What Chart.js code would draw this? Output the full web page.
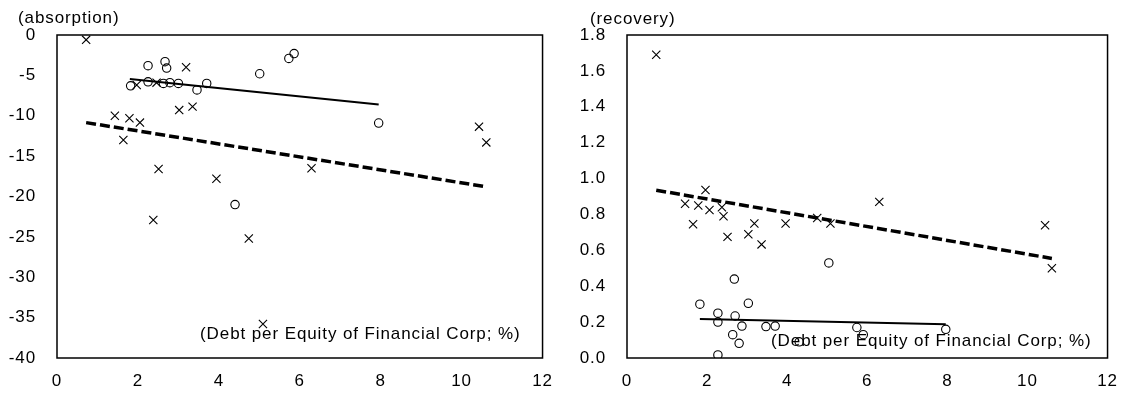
<!DOCTYPE html>
<html>
<head>
<meta charset="utf-8">
<script src="https://cdn.jsdelivr.net/npm/chart.js@4/dist/chart.umd.min.js"></script>
<style>
  html, body { margin: 0; padding: 0; background: #fff; }
  #wrap { position: relative; width: 1130px; height: 394px; }
  canvas { position: absolute; top: 0; }
</style>
</head>
<body>
<div id="wrap">
  <canvas id="absChart" width="565" height="394" style="left:0"></canvas>
  <canvas id="recChart" width="565" height="394" style="left:565px"></canvas>
</div>
<script>
// Debt per equity of financial corporations (%), x-axis for both panels
const xTicks = [0, 2, 4, 6, 8, 10, 12];

// Absorption panel: crosses
const absCrossX = [0.72, 1.43, 1.64, 1.79, 1.97, 2.05, 2.38, 2.46, 2.51, 3.02, 3.19, 3.35, 3.94, 4.74, 5.09, 6.29, 10.43, 10.61];
const absCrossY = [-0.6, -10.0, -13.0, -10.3, -6.2, -10.85, -22.9, -5.9, -16.6, -9.3, -4.0, -8.87, -17.8, -25.2, -35.8, -16.5, -11.35, -13.3];
// Absorption panel: circles
const absCircleX = [1.82, 2.25, 2.25, 2.63, 2.67, 2.71, 2.79, 3.00, 3.46, 3.70, 4.40, 5.01, 5.73, 5.86, 7.95];
const absCircleY = [-6.3, -3.8, -5.8, -6.0, -3.3, -4.1, -5.9, -6.0, -6.8, -6.0, -21.0, -4.8, -2.9, -2.3, -10.9];
// Absorption panel: fitted lines (start, end)
const absCrossTrendX = [0.72, 10.61];
const absCrossTrendY = [-10.85, -18.8];
const absCircleTrendX = [1.80, 7.95];
const absCircleTrendY = [-5.45, -8.6];
const absYTicks = [-40, -35, -30, -25, -20, -15, -10, -5, 0];

// Recovery panel: crosses
const recCrossX = [0.73, 1.45, 1.65, 1.78, 1.96, 2.06, 2.37, 2.41, 2.51, 3.03, 3.18, 3.36, 3.96, 4.75, 5.08, 6.30, 10.44, 10.61];
const recCrossY = [1.69, 0.86, 0.745, 0.85, 0.936, 0.825, 0.84, 0.79, 0.675, 0.69, 0.75, 0.633, 0.75, 0.78, 0.75, 0.87, 0.74, 0.50];
// Recovery panel: circles
const recCircleX = [1.82, 2.27, 2.27, 2.27, 2.64, 2.68, 2.70, 2.80, 2.87, 3.03, 3.47, 3.70, 4.30, 5.04, 5.74, 5.90, 7.96];
const recCircleY = [0.30, 0.25, 0.20, 0.017, 0.13, 0.44, 0.234, 0.082, 0.178, 0.305, 0.175, 0.178, 0.09, 0.53, 0.17, 0.13, 0.16];
// Recovery panel: fitted lines (start, end)
const recCrossTrendX = [0.73, 10.61];
const recCrossTrendY = [0.935, 0.555];
const recCircleTrendX = [1.82, 7.96];
const recCircleTrendY = [0.217, 0.188];
const recYTicks = [0, 0.2, 0.4, 0.6, 0.8, 1.0, 1.2, 1.4, 1.6, 1.8];

const xNote = '(Debt per Equity of Financial Corp; %)';
const FONT = '"Liberation Sans", Arial, sans-serif';
const FONT_SIZE = 17;

function pts(xs, ys) { return xs.map((x, i) => ({ x: x, y: ys[i] })); }

// Frame around the plot area plus the unit label and the x-axis note
function decorPlugin(unitLabel, unitX, unitY, noteInsetRight, noteY) {
  return {
    id: 'decor',
    beforeDraw(chart) { chart.ctx.letterSpacing = '0.9px'; },
    afterDraw(chart) {
      const ctx = chart.ctx, a = chart.chartArea;
      ctx.save();
      ctx.strokeStyle = '#000';
      ctx.lineWidth = 1.5;
      ctx.strokeRect(a.left, a.top, a.right - a.left, a.bottom - a.top);
      ctx.fillStyle = '#000';
      ctx.font = FONT_SIZE + 'px ' + FONT;
      ctx.letterSpacing = '0.9px';
      ctx.textBaseline = 'middle';
      ctx.textAlign = 'left';
      ctx.fillText(unitLabel, unitX, unitY);
      ctx.textAlign = 'right';
      ctx.fillText(xNote, a.right - noteInsetRight, noteY);
      ctx.restore();
    }
  };
}

function makeChart(id, cfg) {
  const datasets = [
    { data: pts(cfg.crossX, cfg.crossY), pointStyle: 'crossRot', pointRadius: 5.8, pointBorderColor: '#000', pointBorderWidth: 1.1, backgroundColor: 'transparent', showLine: false, order: 2 },
    { data: pts(cfg.circleX, cfg.circleY), pointStyle: 'circle', pointRadius: 4.2, pointBorderColor: '#000', pointBorderWidth: 1.1, pointBackgroundColor: 'rgba(0,0,0,0)', showLine: false, order: 2 },
    { data: pts(cfg.crossTrendX, cfg.crossTrendY), showLine: true, pointRadius: 0, borderColor: '#000', borderWidth: 3.5, borderDash: [10, 4], borderCapStyle: 'butt', order: 1 },
    { data: pts(cfg.circleTrendX, cfg.circleTrendY), showLine: true, pointRadius: 0, borderColor: '#000', borderWidth: 2, order: 1 }
  ];
  return new Chart(document.getElementById(id), {
    type: 'scatter',
    data: { datasets: datasets },
    options: {
      responsive: false,
      animation: false,
      events: [],
      layout: { padding: { left: 0, top: 35, right: cfg.padRight, bottom: 0 } },
      plugins: { legend: { display: false }, tooltip: { enabled: false } },
      scales: {
        x: {
          type: 'linear', min: 0, max: 12,
          afterBuildTicks: s => { s.ticks = xTicks.map(v => ({ value: v })); },
          afterFit: s => { s.height = 36; },
          grid: { display: false, drawTicks: false },
          border: { display: false },
          ticks: { color: '#000', font: { size: FONT_SIZE, family: FONT }, padding: 13, maxRotation: 0, autoSkip: false }
        },
        y: {
          type: 'linear', min: cfg.yMin, max: cfg.yMax,
          afterBuildTicks: s => { s.ticks = cfg.yTicks.map(v => ({ value: v })); },
          afterFit: s => { s.width = cfg.yWidth; },
          grid: { display: false, drawTicks: false },
          border: { display: false },
          ticks: { color: '#000', font: { size: FONT_SIZE, family: FONT }, padding: 21, autoSkip: false, callback: cfg.fmt }
        }
      }
    },
    plugins: [decorPlugin(cfg.unit, cfg.unitX, cfg.unitY, cfg.noteInset, cfg.noteY)]
  });
}

makeChart('absChart', {
  crossX: absCrossX, crossY: absCrossY, circleX: absCircleX, circleY: absCircleY,
  crossTrendX: absCrossTrendX, crossTrendY: absCrossTrendY,
  circleTrendX: absCircleTrendX, circleTrendY: absCircleTrendY,
  yMin: -40, yMax: 0, yTicks: absYTicks, fmt: v => String(v),
  yWidth: 57, padRight: 22,
  unit: '(absorption)', unitX: 18, unitY: 18, noteInset: 22, noteY: 334
});

makeChart('recChart', {
  crossX: recCrossX, crossY: recCrossY, circleX: recCircleX, circleY: recCircleY,
  crossTrendX: recCrossTrendX, crossTrendY: recCrossTrendY,
  circleTrendX: recCircleTrendX, circleTrendY: recCircleTrendY,
  yMin: 0, yMax: 1.8, yTicks: recYTicks, fmt: v => Number(v).toFixed(1),
  yWidth: 62, padRight: 16,
  unit: '(recovery)', unitX: 25, unitY: 19, noteInset: 16, noteY: 341
});
</script>
</body>
</html>
